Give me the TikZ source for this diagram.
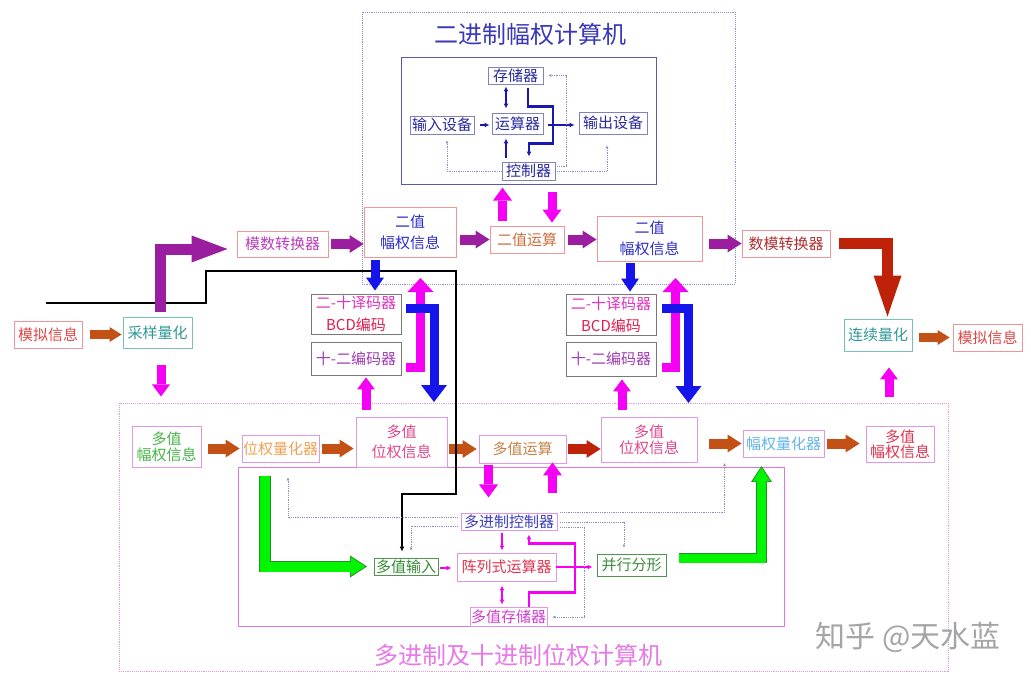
\documentclass[tikz,border=0pt]{standalone}
\usepackage{fontspec}
\setmainfont{Noto Sans CJK SC}
\usetikzlibrary{arrows.meta,calc}
\definecolor{cpurple}{RGB}{155,30,160}
\definecolor{cmag}{RGB}{245,0,245}
\definecolor{cblue}{RGB}{20,20,235}
\definecolor{cbrown}{RGB}{195,80,20}
\definecolor{cdred}{RGB}{190,35,10}
\definecolor{cgreen}{RGB}{0,245,0}
\definecolor{cgreenline}{RGB}{40,140,40}
\definecolor{cnavy}{RGB}{25,25,175}
\definecolor{cdot}{RGB}{140,140,200}
\definecolor{cMnl}{RGB}{225,70,70}
\definecolor{cTeal}{RGB}{50,150,150}
\definecolor{cMoshu}{RGB}{185,60,185}
\definecolor{cEz}{RGB}{45,45,200}
\definecolor{cEzys}{RGB}{200,110,60}
\definecolor{cShumo}{RGB}{175,45,45}
\definecolor{cDec}{RGB}{225,50,190}
\definecolor{cBcd}{RGB}{225,30,80}
\definecolor{cEnc}{RGB}{160,60,180}
\definecolor{cDzL}{RGB}{70,180,70}
\definecolor{cWq}{RGB}{240,160,80}
\definecolor{cDw}{RGB}{225,70,140}
\definecolor{cDys}{RGB}{195,130,70}
\definecolor{cFq}{RGB}{100,180,230}
\definecolor{cDzR}{RGB}{225,50,80}
\definecolor{cDjk}{RGB}{60,60,190}
\definecolor{cDsr}{RGB}{50,140,50}
\definecolor{cZl}{RGB}{225,50,80}
\definecolor{cDcc}{RGB}{210,60,210}
\definecolor{cBx}{RGB}{60,140,60}
\definecolor{cTopTxt}{RGB}{40,40,160}
\definecolor{cTitleA}{RGB}{56,56,184}
\definecolor{cTitleB}{RGB}{232,120,232}
\definecolor{cMark}{RGB}{165,165,165}
\definecolor{bSalmon}{RGB}{240,150,150}
\definecolor{bTeal}{RGB}{120,190,190}
\definecolor{bGray}{RGB}{120,120,120}
\definecolor{bPink}{RGB}{225,150,230}
\definecolor{bNavy}{RGB}{130,130,190}
\definecolor{bGreen}{RGB}{80,150,80}
\definecolor{cTopIn}{RGB}{90,90,170}
\definecolor{cTopDot}{RGB}{140,140,220}
\definecolor{cBigDot}{RGB}{230,150,230}
\definecolor{cInPink}{RGB}{220,120,220}
\tikzset{
  bx/.style={draw, line width=0.9pt, inner sep=0pt, align=center, font=\fontsize{15}{18}\selectfont},
  fat/.style n args={4}{draw=#1, line width=#2, -{Triangle[width=#3,length=#4,line width=0pt]}},
  tb/.style={draw=cnavy, line width=2.4pt, -{Latex[length=5pt,width=5pt]}},
  mt/.style={draw=cmag, line width=2.2pt, -{Latex[length=5pt,width=5pt]}},
  dt/.style={draw=cdot, line width=0.8pt, densely dotted, -{Latex[length=3pt,width=3pt]}},
  frame/.style={line width=0.9pt}
}
\begin{document}
\begin{tikzpicture}[x=1pt,y=-1pt]
\useasboundingbox (0,0) rectangle (1031,680);
% frames
\draw[frame, draw=cTopDot, densely dotted] (362,12) rectangle (735,284);
\draw[frame, draw=cTopIn] (401,57) rectangle (656,184);
\draw[frame, draw=cBigDot, densely dotted] (119,403) rectangle (948,671);
\draw[frame, draw=cInPink] (238,467) rectangle (784,626);
\node[text=cTitleA, font=\fontsize{24}{26}\selectfont] (titleA) at (530,34) {二进制幅权计算机};
\node[text=cTitleB, font=\fontsize{24}{26}\selectfont] (titleB) at (518.5,655) {多进制及十进制位权计算机};
\node[text=cMark, font=\fontsize{30}{32}\selectfont] (mark) at (908,637) {知乎 @天水蓝};
% top inner nodes
\node[bx, draw=bNavy, text=cTopTxt, minimum width=55pt, minimum height=17pt] (cun) at (515.5,75.5) {存储器};
\node[bx, draw=bNavy, text=cTopTxt, minimum width=64pt, minimum height=18pt] (shuru) at (442,125) {输入设备};
\node[bx, draw=bNavy, text=cTopTxt, minimum width=51pt, minimum height=21pt] (yunsuan) at (517.5,123.5) {运算器};
\node[bx, draw=bNavy, text=cTopTxt, minimum width=68pt, minimum height=22pt] (shuchu) at (613,123) {输出设备};
\node[bx, draw=bNavy, text=cTopTxt, minimum width=53pt, minimum height=18pt] (kongzhi) at (528.5,171) {控制器};
% middle nodes
\node[bx, draw=bSalmon, text=cMnl, minimum width=68pt, minimum height=27pt] (mnl) at (48,334.5) {模拟信息};
\node[bx, draw=bTeal, text=cTeal, minimum width=69pt, minimum height=31pt] (caiyang) at (157.5,332.5) {采样量化};
\node[bx, draw=bSalmon, text=cMoshu, minimum width=91pt, minimum height=26pt] (moshu) at (282.5,244) {模数转换器};
\node[bx, draw=bSalmon, text=cEz, minimum width=92pt, minimum height=50pt, font=\fontsize{15}{21}\selectfont] (ezL) at (410,232) {二值\\幅权信息};
\node[bx, draw=bSalmon, text=cEzys, minimum width=74pt, minimum height=27pt] (ezys) at (527,239.5) {二值运算};
\node[bx, draw=bSalmon, text=cEz, minimum width=105pt, minimum height=45pt, font=\fontsize{15}{21}\selectfont] (ezR) at (649.5,238.5) {二值\\幅权信息};
\node[bx, draw=bSalmon, text=cShumo, minimum width=88pt, minimum height=27pt] (shumo) at (786,243.5) {数模转换器};
\node[bx, draw=bTeal, text=cTeal, minimum width=68pt, minimum height=32pt] (lianxu) at (878,335) {连续量化};
\node[bx, draw=bSalmon, text=cMnl, minimum width=69pt, minimum height=27pt] (mnR) at (987.5,337.5) {模拟信息};
\node[bx, draw=bGray, minimum width=90pt, minimum height=40pt, font=\fontsize{15}{22}\selectfont] (decL) at (356,314) {\textcolor{cDec}{二-十译码器}\\\textcolor{cBcd}{BCD编码}};
\node[bx, draw=bGray, text=cEnc, minimum width=90pt, minimum height=33pt] (encL) at (356,358.5) {十-二编码器};
\node[bx, draw=bGray, minimum width=90pt, minimum height=41pt, font=\fontsize{15}{22}\selectfont] (decR) at (611,314.5) {\textcolor{cDec}{二-十译码器}\\\textcolor{cBcd}{BCD编码}};
\node[bx, draw=bGray, text=cEnc, minimum width=90pt, minimum height=34pt] (encR) at (611,359) {十-二编码器};
% bottom nodes
\node[bx, draw=bPink, text=cDzL, minimum width=69pt, minimum height=41pt, font=\fontsize{15}{16}\selectfont] (dzL) at (166.5,446.5) {多值\\幅权信息};
\node[bx, draw=bPink, text=cWq, minimum width=77pt, minimum height=27pt] (wq) at (280.5,448.5) {位权量化器};
\node[bx, draw=bPink, text=cDw, minimum width=91pt, minimum height=50pt, font=\fontsize{15}{20}\selectfont] (dwL) at (401.5,442) {多值\\位权信息};
\node[bx, draw=bPink, text=cDys, minimum width=87pt, minimum height=28pt] (dys) at (522.5,449) {多值运算};
\node[bx, draw=bPink, text=cDw, minimum width=96pt, minimum height=45pt, font=\fontsize{15}{16}\selectfont] (dwR) at (649,439.5) {多值\\位权信息};
\node[bx, draw=bPink, text=cFq, minimum width=81pt, minimum height=27pt] (fq) at (783.5,443.5) {幅权量化器};
\node[bx, draw=bPink, text=cDzR, minimum width=68pt, minimum height=36pt, font=\fontsize{15}{15}\selectfont] (dzR) at (900,444) {多值\\幅权信息};
\node[bx, draw=bPink, text=cDjk, minimum width=96pt, minimum height=17pt] (djk) at (509,521.5) {多进制控制器};
\node[bx, draw=bGreen, text=cDsr, minimum width=64pt, minimum height=17pt] (dsr) at (406,566.5) {多值输入};
\node[bx, draw=bPink, text=cZl, minimum width=99pt, minimum height=28pt] (zl) at (506.5,567) {阵列式运算器};
\node[bx, draw=bPink, text=cDcc, minimum width=77pt, minimum height=19pt] (dcc) at (508.5,616.5) {多值存储器};
\node[bx, draw=bGreen, text=cBx, minimum width=69pt, minimum height=22pt] (bxf) at (631.5,565) {并行分形};
% free ends
\coordinate (bstart) at (46,303);
\coordinate (bLtip) at (434,402);
\coordinate (bRtip) at (688.5,403);
\coordinate (mLtip) at (420.5,278);
\coordinate (mRtip) at (675.5,278);
% top inner connectors
\draw[tb, {Latex[length=5pt,width=5pt]}-{Latex[length=5pt,width=5pt]}] ($(cun.south)+(-9.5,2)$) -- ($(yunsuan.north)+(-11.5,-4)$);
\draw[tb] ($(shuru.east)+(6,0)$) -- ($(yunsuan.west |- shuru.east)+(-2,0)$);
\draw[tb] ($(cun.south)+(12.5,4)$) -- ++(0,18) -| ++(25,37) -| ($(kongzhi.north)+(0.5,-5)$);
\draw[tb] ($(yunsuan.east)+(5,1.5)$) -- ($(shuchu.west |- yunsuan.east)+(-4,1.5)$);
\draw[tb] ($(kongzhi.north)+(-22.5,-4)$) -- ($(yunsuan.south)+(-11.5,4)$);
\draw[dt] ($(kongzhi.east)+(0,-5)$) -- ++(11,0) |- ($(cun.east)+(5,0)$);
\draw[dt] (kongzhi.east) -| ($(shuchu.south)+(-6,11)$);
\draw[dt] (kongzhi.west) -| ($(shuru.south)+(5,6)$);
% brown arrows
\draw[fat={cbrown}{9pt}{15pt}{12pt}] ($(mnl.east)+(8,0)$) -- ($(caiyang.west |- mnl.east)+(-1,0)$);
\draw[fat={cbrown}{9pt}{15pt}{12pt}] ($(mnR.west -| lianxu.east)+(7,0)$) -- ($(mnR.west)+(-3,0)$);
\draw[fat={cbrown}{10pt}{18pt}{14pt}] ($(wq.west -| dzL.east)+(7,0)$) -- ($(wq.west)+(-2,0)$);
\draw[fat={cbrown}{10pt}{18pt}{14pt}] ($(wq.east)+(3,0)$) -- ($(wq.east -| dwL.west)+(-2,0)$);
\draw[fat={cbrown}{10pt}{18pt}{14pt}] ($(dys.west -| dwL.east)+(2,0)$) -- ($(dys.west)+(-2,0)$);
\draw[fat={cbrown}{10pt}{18pt}{14pt}] ($(fq.west -| dwR.east)+(12,0)$) -- ($(fq.west)+(-1,0)$);
\draw[fat={cbrown}{10pt}{18pt}{14pt}] ($(fq.east)+(3,0)$) -- ($(fq.east -| dzR.west)+(-6,0)$);
\draw[fat={cdred}{10pt}{18pt}{14pt}] ($(dys.east)+(2,0)$) -- (dys.east -| dwR.west);
% black line
\draw[black, line width=2.5pt, -{Latex[length=5pt,width=5pt]}] (bstart) -- (206,303) -- (206,271) -- (456,271) -- (456,494) -- (402,494) -- ($(dsr.north)+(-4,-6)$);
% purple arrows
\draw[fat={cpurple}{11pt}{27pt}{36pt}] ($(caiyang.north)+(3,-5)$) |- ($(moshu.west)+(-9,5)$);
\draw[fat={cpurple}{10pt}{18pt}{14pt}] ($(moshu.east)+(3,0)$) -- (moshu.east -| ezL.west);
\draw[fat={cpurple}{10pt}{18pt}{14pt}] ($(ezys.west -| ezL.east)+(4,0)$) -- (ezys.west);
\draw[fat={cpurple}{10pt}{18pt}{14pt}] ($(ezys.east)+(4,0)$) -- (ezys.east -| ezR.west);
\draw[fat={cpurple}{10pt}{18pt}{14pt}] ($(shumo.west -| ezR.east)+(7,0)$) -- (shumo.west);
% dark red L
\draw[fat={cdred}{11pt}{28pt}{41pt}] ($(shumo.east)+(9,0)$) -| ($(lianxu.north)+(9.5,-2)$);
% blue arrows
\draw[fat={cblue}{9pt}{18pt}{13pt}] ($(ezL.south)+(-35,3)$) -- ($(decL.north -| ezL.south)+(-35,-3)$);
\draw[fat={cblue}{9pt}{18pt}{13pt}] ($(ezR.south)+(-19.5,2)$) -- ($(decR.north -| ezR.south)+(-19.5,-2)$);
% magenta L arrows
\draw[fat={cmag}{9pt}{26pt}{14pt}] ($(encL.east)+(5,8.5)$) -| (mLtip);
\draw[fat={cmag}{9pt}{26pt}{14pt}] ($(encR.east)+(6,8)$) -| (mRtip);
\draw[fat={cblue}{9pt}{26pt}{17pt}] ($(decL.east)+(5,-6)$) -| (bLtip);
\draw[fat={cblue}{9pt}{26pt}{17pt}] ($(decR.east)+(6,-6.5)$) -| (bRtip);
% magenta straight arrows
\draw[fat={cmag}{9pt}{18pt}{12pt}] ($(dwL.north)+(-35.5,-7)$) -- ($(encL.south)+(10,2)$);
\draw[fat={cmag}{9pt}{18pt}{12pt}] ($(dwR.north)+(-27,-7)$) -- ($(encR.south)+(11,3)$);
\draw[fat={cmag}{9pt}{18pt}{12pt}] ($(caiyang.south)+(3.5,17)$) -- ($(caiyang.south)+(3.5,48)$);
\draw[fat={cmag}{9pt}{18pt}{12pt}] ($(lianxu.south)+(11,46)$) -- ($(lianxu.south)+(11,16)$);
\draw[fat={cmag}{9pt}{19pt}{13pt}] ($(ezys.north)+(-24.5,-5)$) -- ($(ezys.north)+(-24.5,-38)$);
\draw[fat={cmag}{9pt}{19pt}{13pt}] ($(ezys.north)+(25,-34)$) -- ($(ezys.north)+(25,-3)$);
\draw[fat={cmag}{9pt}{19pt}{13pt}] ($(dys.south)+(-34,2)$) -- ($(dys.south)+(-34,34)$);
\draw[fat={cmag}{9pt}{19pt}{13pt}] ($(dys.south)+(30,30)$) -- ($(dys.south)+(30,-1)$);
% green L arrows
\draw[fat={cgreenline}{11.6pt}{22pt}{17pt}, shorten >=-1.5pt] ($(wq.south)+(-15.5,13.2)$) |- ($(dsr.west)+(-8,0)$);
\draw[fat={cgreen}{10pt}{19pt}{15pt}] ($(wq.south)+(-15.5,14)$) |- ($(dsr.west)+(-8,0)$);
\draw[fat={cgreenline}{10.6pt}{21pt}{16pt}, shorten >=-1.5pt] ($(bxf.east)+(12.2,-7)$) -| ($(fq.south)+(-22,10)$);
\draw[fat={cgreen}{9pt}{18pt}{14pt}] ($(bxf.east)+(13,-7)$) -| ($(fq.south)+(-22,10)$);
% bottom magenta thin connectors
\draw[mt] ($(dsr.east)+(2,1.5)$) -- ($(zl.west)+(-5,1)$);
\draw[mt] ($(djk.south)+(-7,3)$) -- ($(zl.north)+(-4.5,-2)$);
\draw[mt, {Latex[length=5pt,width=5pt]}-{Latex[length=5pt,width=5pt]}] ($(zl.south)+(-4.5,4)$) -- ($(dcc.north)+(-6.5,-2)$);
\draw[mt] ($(dcc.north)+(20.5,0)$) -- ++(0,-14) -- ++(46,0) -- ++(0,-49) -- ++(-46,0) -- ($(djk.south)+(20,4)$);
\draw[mt] (zl.east) -- ($(bxf.west)+(-4,2)$);
% bottom dotted connectors
\draw[dt] ($(djk.west)+(-3,-4.5)$) -| ($(wq.south)+(7.5,15)$);
\draw[dt] ($(djk.west)+(-3,4.5)$) -| ($(dsr.north)+(5,-7)$);
\draw[dt] ($(djk.east)+(3,-9.5)$) -| ($(fq.west)+(-18,19.5)$);
\draw[dt] ($(djk.east)+(3,0.5)$) -| ($(bxf.north)+(-7.5,-6)$);
\draw[dt] ($(djk.east)+(3,5.5)$) -- ++(24,0) |- ($(dcc.east)+(5,0.5)$);
\end{tikzpicture}
\end{document}
